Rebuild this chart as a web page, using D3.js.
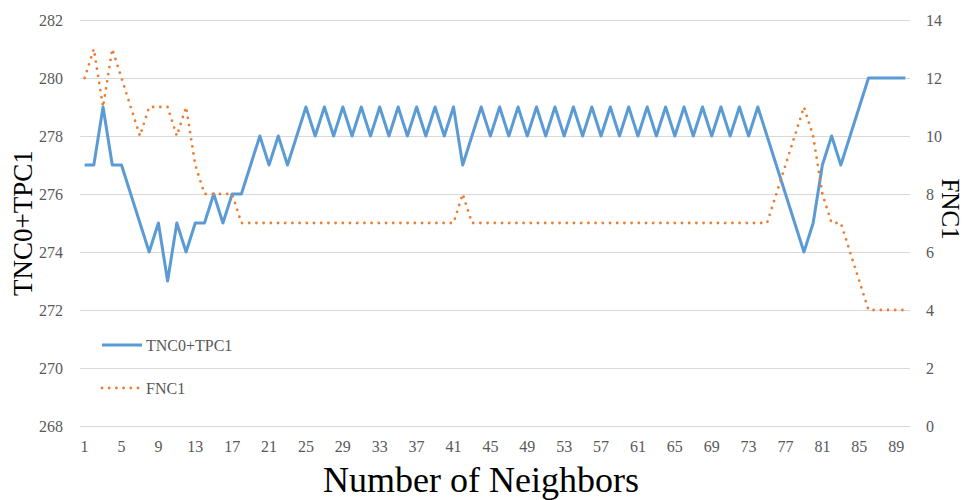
<!DOCTYPE html>
<html><head><meta charset="utf-8">
<script src="https://cdn.jsdelivr.net/npm/d3@7"></script>
<style>body{margin:0;background:#fff}</style>
</head><body>
<svg id="c" width="966" height="500"></svg>
<script>
const neighbors = d3.range(1, 91);
const tncTpc1 = [277,277,279,277,277,276,275,274,275,273,
  275,274,275,275,276,275,276,276,277,278,
  277,278,277,278,279,278,279,278,279,278,
  279,278,279,278,279,278,279,278,279,278,
  279,277,278,279,278,279,278,279,278,279,
  278,279,278,279,278,279,278,279,278,279,
  278,279,278,279,278,279,278,279,278,279,
  278,279,278,279,278,277,276,275,274,275,
  277,278,277,278,279,280,280,280,280,280];
const fnc1 = [12,13,11,13,12,11,10,11,11,11,
  10,11,9,8,8,8,8,7,7,7,
  7,7,7,7,7,7,7,7,7,7,
  7,7,7,7,7,7,7,7,7,7,
  7,8,7,7,7,7,7,7,7,7,
  7,7,7,7,7,7,7,7,7,7,
  7,7,7,7,7,7,7,7,7,7,
  7,7,7,7,7,8,9,10,11,10,
  8,7,7,6,5,4,4,4,4,4];
const leftTicks = [268,270,272,274,276,278,280,282];
const rightTicks = [0,2,4,6,8,10,12,14];
const xTickLabels = neighbors.filter(d => (d - 1) % 4 === 0);
const seriesNames = ["TNC0+TPC1", "FNC1"];
const leftTitle = "TNC0+TPC1", rightTitle = "FNC1", xTitle = "Number of Neighbors";

const FONT = "'Liberation Serif', 'Times New Roman', serif";
const svg = d3.select("#c").attr("font-family", FONT);
const X0 = 80, X1 = 910, Y0 = 426, Y1 = 20;
const x = d3.scaleBand().domain(neighbors).range([X0, X1]);
const yL = d3.scaleLinear().domain([268, 282]).range([Y0, Y1]);
const yR = d3.scaleLinear().domain([0, 14]).range([Y0, Y1]);
const cx = d => x(d) + x.bandwidth() / 2;

function styleTicks(g) {
  g.attr("font-family", FONT).attr("font-size", 16);
  g.select(".domain").remove();
  g.selectAll(".tick text").attr("fill", "#595959")
    .style("font-family", FONT).style("font-size", "16px");
}

const gL = svg.append("g").attr("transform", `translate(${X0},0)`)
  .call(d3.axisLeft(yL).tickValues(leftTicks).tickSize(-(X1 - X0)).tickPadding(17));
styleTicks(gL);
gL.selectAll(".tick line").attr("stroke", "#d9d9d9").attr("stroke-width", 1.2);

const gR = svg.append("g").attr("transform", `translate(${X1},0)`)
  .call(d3.axisRight(yR).tickValues(rightTicks).tickSize(0).tickPadding(16));
styleTicks(gR);

const gX = svg.append("g").attr("transform", `translate(0,${Y0})`)
  .call(d3.axisBottom(x).tickValues(xTickLabels).tickSize(0).tickPadding(15));
styleTicks(gX);

// lines
svg.append("path").datum(neighbors)
  .attr("fill", "none").attr("stroke", "#5B9BD5").attr("stroke-width", 3)
  .attr("stroke-linejoin", "round")
  .attr("d", d3.line().x(d => cx(d)).y((d, i) => yL(tncTpc1[i])));
svg.append("path").datum(neighbors)
  .attr("fill", "none").attr("stroke", "#ED7D31").attr("stroke-width", 2.8)
  .attr("stroke-linecap", "round").attr("stroke-dasharray", "0 7.2")
  .attr("d", d3.line().x(d => cx(d)).y((d, i) => yR(fnc1[i])));

// legend
const lg = svg.append("g");
lg.append("line").attr("x1", 102).attr("x2", 142).attr("y1", 345).attr("y2", 345)
  .attr("stroke", "#5B9BD5").attr("stroke-width", 3);
lg.append("text").attr("x", 146).attr("y", 351).attr("fill", "#595959")
  .style("font-family", FONT).style("font-size", "16px").text(seriesNames[0]);
lg.append("line").attr("x1", 102).attr("x2", 140).attr("y1", 388).attr("y2", 388)
  .attr("stroke", "#ED7D31").attr("stroke-width", 2.8)
  .attr("stroke-linecap", "round").attr("stroke-dasharray", "0 7.2");
lg.append("text").attr("x", 146).attr("y", 394).attr("fill", "#595959")
  .style("font-family", FONT).style("font-size", "16px").text(seriesNames[1]);

// axis titles
svg.append("text").attr("transform", "translate(32,223) rotate(-90)")
  .attr("text-anchor", "middle").attr("fill", "#000")
  .style("font-family", FONT).style("font-size", "27px").text(leftTitle);
svg.append("text").attr("transform", "translate(942,209) rotate(90)")
  .attr("text-anchor", "middle").attr("fill", "#000")
  .style("font-family", FONT).style("font-size", "25px").text(rightTitle);
svg.append("text").attr("x", 481).attr("y", 492)
  .attr("text-anchor", "middle").attr("fill", "#000")
  .style("font-family", FONT).style("font-size", "36px").text(xTitle);
</script>
</body></html>
